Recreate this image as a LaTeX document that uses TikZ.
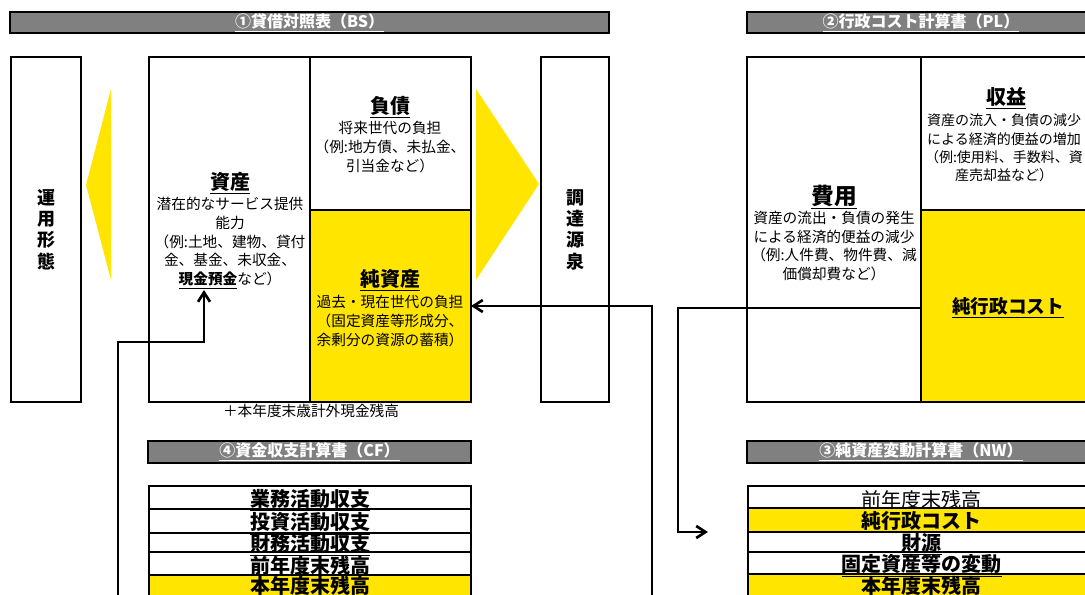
\documentclass[tikz,border=0pt]{standalone}
\usepackage{fontspec}
\setmainfont{Noto Sans CJK JP}
\usetikzlibrary{arrows.meta,fit}
\definecolor{ylw}{HTML}{FFE500}
\definecolor{gry}{HTML}{808080}
\begin{document}
\begin{tikzpicture}[x=0.75pt,y=-0.75pt,
  box/.style={draw=black,line width=0.8pt,inner sep=0pt,outer sep=0pt},
  ybox/.style={box,fill=ylw},
  bar/.style={draw=black,line width=1.8pt,fill=gry,inner sep=0pt,outer sep=0pt},
  bartext/.style={text=white,font=\fontsize{12}{14}\selectfont\bfseries,inner sep=0pt},
  rowtext/.style={font=\fontsize{15}{16}\selectfont\bfseries,inner sep=0pt,yshift=-2pt},
  lasttext/.style={font=\fontsize{15}{16}\selectfont\bfseries,inner sep=0pt},
  head/.style={font=\fontsize{15}{16}\selectfont\bfseries,inner sep=0pt},
  body/.style={font=\fontsize{11}{14}\selectfont,align=center,inner sep=0pt},
  vert/.style={font=\fontsize{13.5}{16}\selectfont\bfseries,align=center,inner sep=0pt},
  conn/.style={line width=2pt,-{Straight Barb[length=7pt,width=9pt]}}
]
\useasboundingbox (0,0) rectangle (1085,595);
\clip (0,0) rectangle (1085,595);

% title bars
\node[bar,fit={(10,12)(609,33)}] (bsT) {};
\node[bartext] (bsTt) at (bsT.center) {\underline{①貸借対照表（BS）}};
\node[bar,fit={(747,12)(1095,33)}] (plT) {};
\node[bartext] (plTt) at (plT.center) {\underline{②行政コスト計算書（PL）}};
\node[bar,fit={(148,441)(471,463)}] (cfT) {};
\node[bartext] (cfTt) at (cfT.center) {\underline{④資金収支計算書（CF）}};
\node[bar,fit={(747,441)(1095,463)}] (nwT) {};
\node[bartext] (nwTt) at (nwT.center) {\underline{③純資産変動計算書（NW）}};

% balance sheet
\node[box,fit={(11,57)(81,402)}] (unyo) {};
\node[vert] (unyoL) at (unyo.center) {運\\用\\形\\態};
\node[box,fit={(149,57)(310,402)}] (asset) {};
\node[box,fit={(310,57)(471,210)}] (liab) {};
\node[ybox,fit={(310,210)(471,402)}] (nasset) {};
\node[box,fit={(541,57)(609,402)}] (chotatsu) {};
\node[vert] (chotatsuL) at (chotatsu.center) {調\\達\\源\\泉};

\fill[ylw] (86,185) -- (111,89) -- (111,280) -- cycle;
\fill[ylw] (539,184) -- (476,89) -- (476,280) -- cycle;

\node[head] (assetH) at (230,183) {\underline{資産}};
\node[body] (assetB) at (230,243) {潜在的なサービス提供\\能力\\（例:土地、建物、貸付\\金、基金、未収金、\\{\bfseries\underline{現金預金}}など）};
\node[head] (liabH) at (390,107) {\underline{負債}};
\node[body] (liabB) at (390,147) {将来世代の負担\\（例:地方債、未払金、\\引当金など）};
\node[head] (nassetH) at (390,280) {\underline{純資産}};
\node[body] (nassetB) at (390,321) {過去・現在世代の負担\\（固定資産等形成分、\\余剰分の資源の蓄積）};
\node[body] (kaiki) at (311,411) {＋本年度末歳計外現金残高};

% cost statement
\node[box,fit={(747,57)(921,402)}] (expense) {};
\node[box,fit={(921,57)(1095,210)}] (revenue) {};
\node[ybox,fit={(921,210)(1095,402)}] (netcost) {};
\node[head,font=\fontsize{17}{18}\selectfont\bfseries] (expenseH) at (834,197) {\underline{費用}};
\node[body] (expenseB) at (834,246) {資産の流出・負債の発生\\による経済的便益の減少\\（例:人件費、物件費、減\\価償却費など）};
\node[head] (revenueH) at (1006,98) {\underline{収益}};
\node[body,font=\fontsize{10.5}{13.7}\selectfont] (revenueB) at (1004,148) {資産の流入・負債の減少\\による経済的便益の増加\\（例:使用料、手数料、資\\産売却益など）};
\node[head,font=\fontsize{14}{16}\selectfont\bfseries] (netcostH) at (1008,308) {\underline{純行政コスト}};

% cash flow
\node[box,fit={(149,486)(471,509)}] (cf1) {};
\node[box,fit={(149,509)(471,533)}] (cf2) {};
\node[box,fit={(149,533)(471,552)}] (cf3) {};
\node[box,fit={(149,552)(471,575)}] (cf4) {};
\node[ybox,fit={(149,575)(471,598)}] (cf5) {};
\node[rowtext] (cf1t) at (cf1.center) {\underline{業務活動収支}};
\node[rowtext] (cf2t) at (cf2.center) {\underline{投資活動収支}};
\node[rowtext] (cf3t) at (cf3.center) {\underline{財務活動収支}};
\node[rowtext] (cf4t) at (cf4.center) {前年度末残高};
\node[lasttext] (cf5t) at (cf5.center |- 0,585.5) {本年度末残高};

% net worth
\node[box,fit={(748,486)(1095,508)}] (nw1) {};
\node[ybox,fit={(748,508)(1095,532)}] (nw2) {};
\node[box,fit={(748,532)(1095,552)}] (nw3) {};
\node[box,fit={(748,552)(1095,574)}] (nw4) {};
\node[ybox,fit={(748,574)(1095,598)}] (nw5) {};
\node[rowtext,font=\fontsize{15}{16}\selectfont] (nw1t) at (nw1.center) {前年度末残高};
\node[rowtext] (nw2t) at (nw2.center) {\underline{純行政コスト}};
\node[rowtext] (nw3t) at (nw3.center) {\underline{財源}};
\node[rowtext] (nw4t) at (nw4.center) {\underline{固定資産等の変動}};
\node[lasttext] (nw5t) at (nw5.center |- 0,585.5) {本年度末残高};

% connectors
\coordinate (a0) at (652,598);
\draw[conn] (a0) |- (nasset.east);
\coordinate (b0) at (921,308);
\coordinate (b1) at (678,532);
\coordinate (b2) at (708,532);
\draw[conn] (b0) -| (b1) -- (b2);
\coordinate (c0) at (118,598);
\coordinate (c1) at (204,342);
\coordinate (c2) at (204,290);
\draw[conn] (c0) |- (c1) -- (c2);
\end{tikzpicture}
\end{document}
